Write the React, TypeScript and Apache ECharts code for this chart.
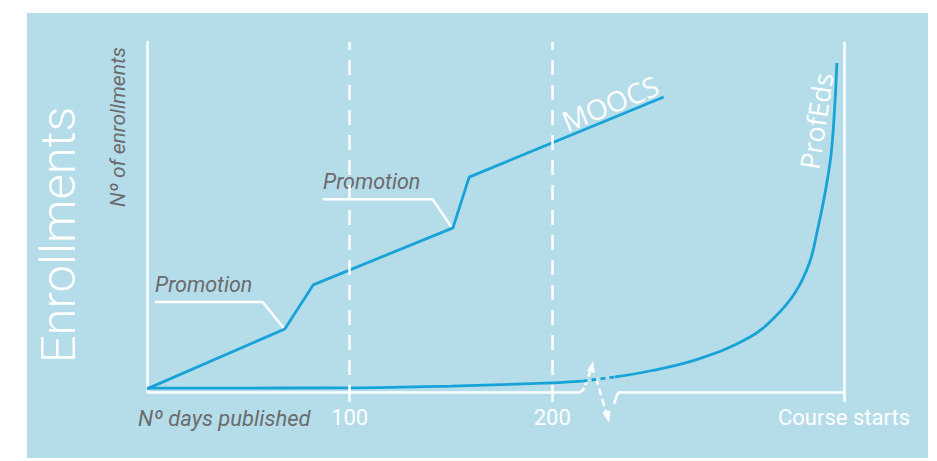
import React, { useEffect, useRef } from "react";
import * as echarts from "echarts";

// MOOCS enrollments (days published, enrollments index)
const moocsX = [0, 68, 82, 151, 159, 255];
const moocsY = [0.9, 18, 30.6, 46.9, 61.4, 84.3];

// ProfEds enrollments, split around the axis break
const profStartX = [0, 100, 150, 200, 215];
const profStartY = [1.1, 1.2, 1.7, 2.6, 3.1];
const profBreakX = [215, 231];
const profBreakY = [3.1, 4.3];
const profEndX = [231, 248, 272, 297, 310, 320, 327, 331, 335, 338, 340.5];
const profEndY = [4.3, 6.0, 9.4, 15.5, 21.5, 28.5, 37, 46.5, 58, 70, 94];

// Promotion leader lines
const promo1X = [3.9, 57.1, 67.5];
const promo1Y = [25.7, 25.7, 18.2];
const promo2X = [86.7, 140.9, 150.5];
const promo2Y = [55.1, 55.1, 46.9];

// x axis ticks
const tickValues = [100, 200, 344];
const tickLabels = ["100", "200", "Course starts"];
const breakStart = 214;
const breakEnd = 233.5;

const zip = (xs: number[], ys: number[]) => xs.map((x, i) => [x, ys[i]]);

export default function App() {
  const ref = useRef<HTMLDivElement>(null);
  useEffect(() => {
    document.body.style.margin = "0";
    const chart = echarts.init(ref.current!, null, { renderer: "svg" });
    const white = "#ffffff";
    const blue = "#17a3d8";
    const gray = "#6b6b6d";
    const font = "Roboto, 'Noto Sans', sans-serif";
    const dash = { color: white, width: 2.5, type: [15, 10], dashOffset: 7 };
    const solid = { color: white, width: 2.5, type: "solid" };
    const option: any = {
      animation: false,
      backgroundColor: "#ffffff",
      grid: { left: 147, right: 93, top: 42, bottom: 69, containLabel: false },
      xAxis: {
        type: "value",
        min: 0,
        max: 344,
        axisLine: { show: false },
        splitLine: { show: false },
        axisTick: {
          show: true,
          customValues: tickValues,
          length: 10,
          lineStyle: { color: white, width: 2.5 },
        },
        axisLabel: {
          show: true,
          customValues: tickValues,
          formatter: (v: number) => {
            const i = tickValues.indexOf(v);
            return i >= 0 ? tickLabels[i] : "";
          },
          color: white,
          fontSize: 22,
          fontFamily: font,
          margin: 14,
        },
      },
      yAxis: {
        type: "value",
        min: 0,
        max: 100,
        axisLine: { show: true, lineStyle: { color: white, width: 2.5 } },
        axisTick: { show: false },
        axisLabel: { show: false },
        splitLine: { show: false },
      },
      graphic: [
        { type: "rect", z: -100, shape: { x: 27, y: 13, width: 901, height: 445 }, style: { fill: "#b4dce9" } },
        {
          type: "text", x: 58, y: 235, rotation: Math.PI / 2,
          style: { text: "Enrollments", fill: white, fontSize: 49, fontWeight: 300, fontFamily: font, align: "center", verticalAlign: "middle" },
        },
        {
          type: "text", x: 118, y: 127, rotation: Math.PI / 2,
          style: { text: "Nº of enrollments", fill: gray, fontSize: 21, fontStyle: "italic", fontFamily: font, align: "center", verticalAlign: "middle" },
        },
        {
          type: "text", x: 138, y: 418,
          style: { text: "Nº days published", fill: gray, fontSize: 22, fontStyle: "italic", fontFamily: font, align: "left", verticalAlign: "middle" },
        },
        {
          type: "text", x: 155, y: 284,
          style: { text: "Promotion", fill: gray, fontSize: 21.5, fontStyle: "italic", fontFamily: font, align: "left", verticalAlign: "middle" },
        },
        {
          type: "text", x: 323, y: 181,
          style: { text: "Promotion", fill: gray, fontSize: 21.5, fontStyle: "italic", fontFamily: font, align: "left", verticalAlign: "middle" },
        },
        {
          type: "text", x: 610, y: 103, rotation: 0.39,
          style: { text: "MOOCS", fill: white, fontSize: 28, fontFamily: "'Open Sans', Roboto, sans-serif", align: "center", verticalAlign: "middle" },
        },
        {
          type: "text", x: 816, y: 121, rotation: 1.42,
          style: { text: "ProfEds", fill: white, fontSize: 27, fontFamily: "'Open Sans', Roboto, sans-serif", align: "center", verticalAlign: "middle" },
        },
        // axis break symbol
        {
          type: "polyline", z: 1,
          shape: { points: [[580, 392], [583, 390], [585, 386], [590, 372]] },
          style: { stroke: white, lineWidth: 2.5, fill: null, lineDash: [6, 3] },
        },
        { type: "polygon", z: 1, shape: { points: [[593, 361], [587, 371], [595, 373]] }, style: { fill: white } },
        {
          type: "polyline", z: 1,
          shape: { points: [[596, 378], [606, 412]] },
          style: { stroke: white, lineWidth: 2.5, fill: null, lineDash: [7, 4] },
        },
        { type: "polygon", z: 1, shape: { points: [[609, 423], [602.5, 412.5], [610.5, 410.5]] }, style: { fill: white } },
        {
          type: "polyline", z: 1,
          shape: { points: [[614, 404], [617, 395], [618.5, 392.5], [621, 392]] },
          style: { stroke: white, lineWidth: 2.5, fill: null },
        },
      ],
      series: [
        {
          type: "line",
          z: 1,
          data: [[0, 0]],
          symbol: "none",
          lineStyle: { opacity: 0 },
          silent: true,
          markLine: {
            silent: true,
            symbol: "none",
            label: { show: false },
            emphasis: { disabled: true },
            data: [
              [{ coord: [100, 100], lineStyle: dash }, { coord: [100, 0] }],
              [{ coord: [200, 100], lineStyle: dash }, { coord: [200, 0] }],
              [{ coord: [344, 100], lineStyle: solid }, { coord: [344, 0] }],
              [{ coord: [0, 0], lineStyle: solid }, { coord: [breakStart, 0] }],
              [{ coord: [breakEnd, 0], lineStyle: solid }, { coord: [344, 0] }],
            ],
          },
        },
        {
          type: "line", z: 2, data: zip(promo1X, promo1Y), symbol: "none",
          lineStyle: { color: white, width: 2.5 },
        },
        {
          type: "line", z: 2, data: zip(promo2X, promo2Y), symbol: "none",
          lineStyle: { color: white, width: 2.5 },
        },
        {
          name: "MOOCS", type: "line", z: 3, data: zip(moocsX, moocsY), symbol: "none",
          lineStyle: { color: blue, width: 2.8 },
        },
        {
          name: "ProfEds", type: "line", z: 3, data: zip(profStartX, profStartY), symbol: "none",
          smooth: 0.4, lineStyle: { color: blue, width: 2.8 },
        },
        {
          name: "ProfEds", type: "line", z: 3, data: zip(profBreakX, profBreakY), symbol: "none",
          lineStyle: { color: blue, width: 2.8, type: [5, 4] },
        },
        {
          name: "ProfEds", type: "line", z: 3, data: zip(profEndX, profEndY), symbol: "none",
          smooth: 0.4, lineStyle: { color: blue, width: 2.8 },
        },
      ],
    };
    chart.setOption(option);
    return () => chart.dispose();
  }, []);
  return <div ref={ref} style={{ width: 937, height: 461 }} />;
}
